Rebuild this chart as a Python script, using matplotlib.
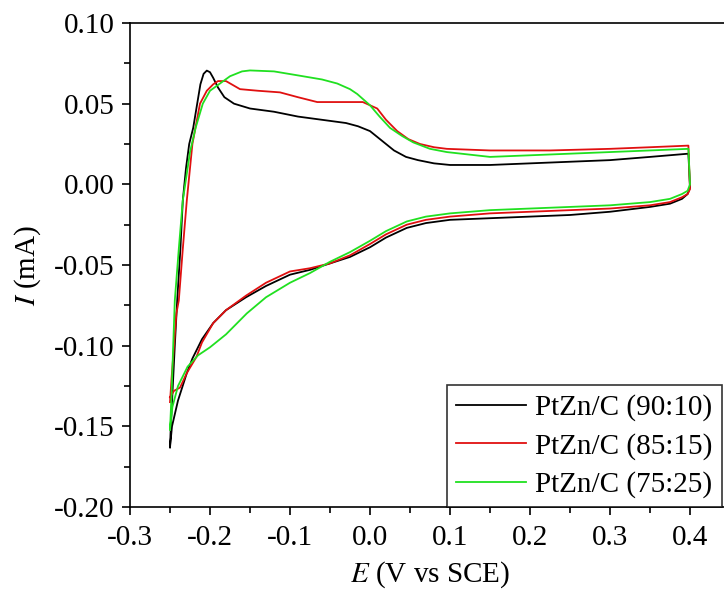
import matplotlib
matplotlib.use('Agg')
import matplotlib.pyplot as plt
from matplotlib.ticker import MultipleLocator

plt.rcParams['font.family'] = ['Liberation Serif', 'DejaVu Serif']
plt.rcParams['mathtext.fontset'] = 'stix'

# PtZn/C (90:10)
E_90 = [-0.250, -0.249, -0.247, -0.244, -0.241, -0.237, -0.234, -0.230, -0.226, -0.221,
        -0.216, -0.212, -0.208, -0.204, -0.200, -0.196, -0.190, -0.182, -0.170, -0.150,
        -0.120, -0.090, -0.060, -0.030, -0.015, 0.000, 0.015, 0.030, 0.045, 0.060,
        0.080, 0.100, 0.150, 0.200, 0.250, 0.300, 0.350, 0.398,
        0.400, 0.397, 0.390, 0.375, 0.350, 0.300, 0.250, 0.200, 0.150, 0.100,
        0.070, 0.046, 0.020, 0.000, -0.025, -0.050, -0.075, -0.100, -0.130, -0.155,
        -0.180, -0.196, -0.210, -0.222, -0.229, -0.240, -0.2475, -0.250]
I_90 = [-0.163, -0.150, -0.130, -0.100, -0.072, -0.040, -0.010, 0.010, 0.025, 0.035,
        0.050, 0.062, 0.0685, 0.0705, 0.0695, 0.066, 0.060, 0.054, 0.050, 0.047,
        0.045, 0.042, 0.040, 0.038, 0.036, 0.033, 0.027, 0.021, 0.017, 0.015,
        0.013, 0.012, 0.012, 0.013, 0.014, 0.015, 0.017, 0.019,
        -0.002, -0.006, -0.009, -0.012, -0.014, -0.017, -0.019, -0.020, -0.021, -0.022,
        -0.024, -0.027, -0.033, -0.039, -0.045, -0.049, -0.053, -0.056, -0.063, -0.070,
        -0.078, -0.086, -0.096, -0.108, -0.117, -0.134, -0.150, -0.163]

# PtZn/C (85:15)
E_85 = [-0.250, -0.248, -0.245, -0.242, -0.239, -0.234, -0.229, -0.227, -0.222, -0.2125,
        -0.204, -0.196, -0.190, -0.180, -0.1625, -0.140, -0.1125, -0.090, -0.066, -0.040,
        -0.009, 0.009, 0.020, 0.034, 0.048, 0.0625, 0.080, 0.096, 0.150, 0.225,
        0.300, 0.350, 0.398,
        0.400, 0.397, 0.390, 0.375, 0.350, 0.300, 0.250, 0.200, 0.150, 0.100,
        0.070, 0.046, 0.020, 0.000, -0.025, -0.050, -0.075, -0.100, -0.130, -0.155,
        -0.180, -0.196, -0.210, -0.217, -0.229, -0.2375, -0.245, -0.250]
I_85 = [-0.135, -0.120, -0.100, -0.080, -0.072, -0.040, -0.010, 0.000, 0.025, 0.050,
        0.058, 0.062, 0.064, 0.064, 0.059, 0.058, 0.057, 0.054, 0.051, 0.051,
        0.051, 0.047, 0.040, 0.033, 0.028, 0.025, 0.023, 0.022, 0.021, 0.021,
        0.022, 0.023, 0.024,
        -0.003, -0.006, -0.008, -0.011, -0.013, -0.015, -0.016, -0.017, -0.018, -0.020,
        -0.022, -0.025, -0.031, -0.037, -0.044, -0.049, -0.052, -0.054, -0.061, -0.069,
        -0.078, -0.086, -0.098, -0.107, -0.117, -0.126, -0.128, -0.132]

# PtZn/C (75:25)
E_75 = [-0.250, -0.248, -0.246, -0.244, -0.239, -0.234, -0.231, -0.225, -0.218, -0.209,
        -0.200, -0.1875, -0.175, -0.160, -0.150, -0.120, -0.091, -0.060, -0.041, -0.025,
        -0.016, 0.000, 0.012, 0.025, 0.040, 0.054, 0.075, 0.096, 0.150, 0.200,
        0.250, 0.300, 0.350, 0.398,
        0.400, 0.397, 0.390, 0.375, 0.350, 0.300, 0.250, 0.200, 0.150, 0.100,
        0.070, 0.046, 0.020, 0.000, -0.025, -0.050, -0.075, -0.100, -0.130, -0.154,
        -0.180, -0.200, -0.215, -0.228, -0.240, -0.247, -0.250]
I_75 = [-0.152, -0.130, -0.100, -0.072, -0.040, -0.010, 0.000, 0.020, 0.035, 0.050,
        0.058, 0.0625, 0.067, 0.070, 0.0706, 0.070, 0.0676, 0.065, 0.0625, 0.059,
        0.056, 0.049, 0.042, 0.035, 0.030, 0.026, 0.022, 0.020, 0.017, 0.018,
        0.019, 0.020, 0.021, 0.022,
        0.000, -0.004, -0.006, -0.009, -0.011, -0.013, -0.014, -0.015, -0.016, -0.018,
        -0.020, -0.023, -0.029, -0.035, -0.042, -0.048, -0.055, -0.061, -0.070, -0.080,
        -0.093, -0.101, -0.106, -0.113, -0.125, -0.138, -0.152]

labels = ['PtZn/C (90:10)', 'PtZn/C (85:15)', 'PtZn/C (75:25)']
farben = ['black', '#e01010', '#20e020']
schrift = 21

fig = plt.figure(figsize=(7.24, 5.94), dpi=100)
ax = fig.add_axes([130/724, 1 - 507/594, 600/724, 484/594])

for E, I, lab, farbe in zip([E_90, E_85, E_75], [I_90, I_85, I_75], labels, farben):
    ax.plot(E, I, color=farbe, lw=1.3, label=lab)

ax.set_xlim(-0.3, 0.45)
ax.set_ylim(-0.2, 0.1)
ax.xaxis.set_major_locator(MultipleLocator(0.1))
ax.xaxis.set_minor_locator(MultipleLocator(0.05))
ax.yaxis.set_major_locator(MultipleLocator(0.05))
ax.yaxis.set_minor_locator(MultipleLocator(0.025))
ax.xaxis.set_major_formatter(plt.FuncFormatter(lambda v, p: f'{v:.1f}'.replace('-0.0', '0.0')))
ax.yaxis.set_major_formatter(plt.FuncFormatter(lambda v, p: f'{v:.2f}'.replace('-0.00', '0.00')))
ax.tick_params(which='major', direction='out', length=6, width=1.2, labelsize=schrift)
ax.tick_params(which='minor', direction='out', length=4, width=1.2)
ax.tick_params(axis='x', which='major', pad=7)
ax.tick_params(axis='y', which='major', pad=5)
for s in ax.spines.values():
    s.set_linewidth(1.2)

ax.set_xlabel('$E$ (V vs SCE)', fontsize=schrift, labelpad=6)
ax.set_ylabel('$I$ (mA)', fontsize=schrift, labelpad=8)

leg = ax.legend(loc='lower left', bbox_to_anchor=(0.528, 0.0), borderaxespad=0,
                fontsize=schrift, frameon=True, fancybox=False, edgecolor='black',
                handlelength=2.4, handletextpad=0.34, borderpad=0.3, labelspacing=0.4)
leg.get_frame().set_linewidth(1.2)

fig.savefig('out.png', dpi=100)
